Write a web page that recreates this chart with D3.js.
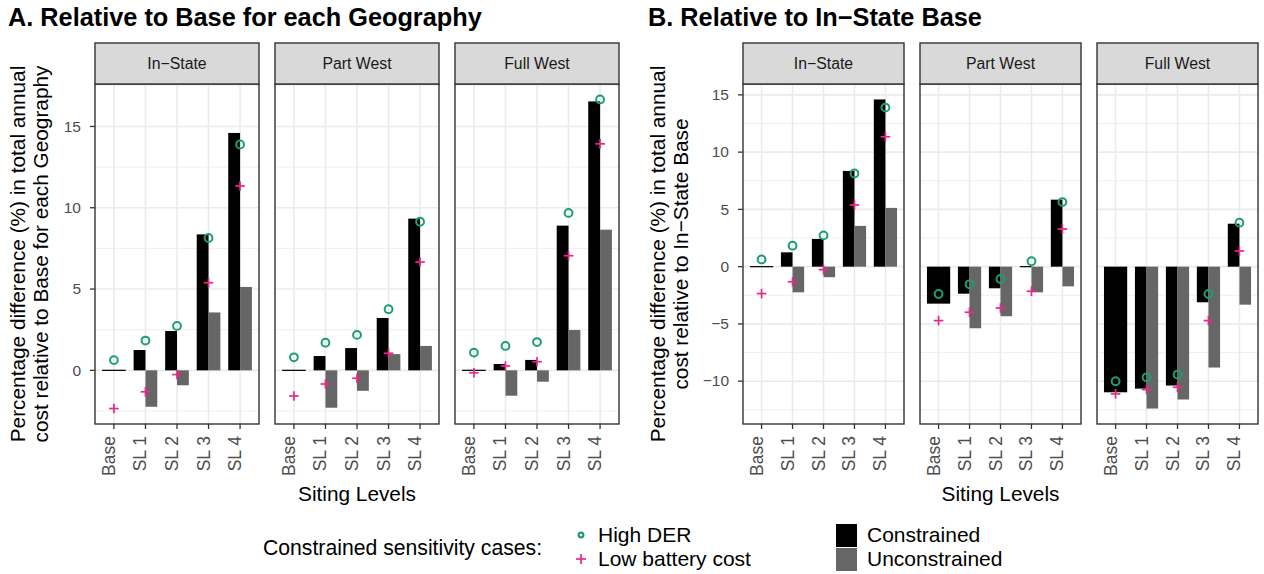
<!DOCTYPE html>
<html><head><meta charset="utf-8">
<script src="https://cdn.jsdelivr.net/npm/d3@7"></script>
<style>body{margin:0;background:#fff} text{font-family:"Liberation Sans",Arial,Helvetica,sans-serif}</style>
</head><body><svg id="c" width="1264" height="574"></svg>
<script>
// ---------------- DATA ----------------
const categories = ["Base", "SL 1", "SL 2", "SL 3", "SL 4"];
const geographies = ["In\u2212State", "Part West", "Full West"];

// Panel A: relative to Base for each geography
const constrainedA = [
  [0, 1.25, 2.42, 8.36, 14.60],
  [0, 0.88, 1.37, 3.22, 9.33],
  [0, 0.39, 0.64, 8.90, 16.54]
];
const unconstrainedA = [
  [null, -2.24, -0.92, 3.56, 5.13],
  [null, -2.30, -1.26, 1.00, 1.50],
  [null, -1.56, -0.70, 2.48, 8.65]
];
const highDerA = [
  [0.63, 1.83, 2.73, 8.14, 13.89],
  [0.80, 1.70, 2.18, 3.76, 9.14],
  [1.09, 1.50, 1.74, 9.68, 16.66]
];
const lowBatteryA = [
  [-2.35, -1.32, -0.26, 5.39, 11.34],
  [-1.58, -0.84, -0.49, 1.05, 6.66],
  [-0.15, 0.27, 0.53, 7.05, 13.93]
];

// Panel B: relative to In-State Base
const constrainedB = [
  [0, 1.25, 2.42, 8.36, 14.60],
  [-3.23, -2.36, -1.89, -0.05, 5.85],
  [-10.97, -10.65, -10.38, -3.11, 3.75]
];
const unconstrainedB = [
  [null, -2.24, -0.92, 3.56, 5.13],
  [null, -5.38, -4.33, -2.24, -1.72],
  [null, -12.39, -11.60, -8.81, -3.32]
];
const highDerB = [
  [0.63, 1.83, 2.73, 8.14, 13.89],
  [-2.39, -1.54, -1.08, 0.47, 5.64],
  [-10.00, -9.66, -9.42, -2.39, 3.84]
];
const lowBatteryB = [
  [-2.35, -1.32, -0.26, 5.39, 11.34],
  [-4.71, -3.98, -3.61, -2.15, 3.29],
  [-11.11, -10.73, -10.53, -4.71, 1.37]
];

const yTicksA = [0, 5, 10, 15];
const yTicksB = [-10, -5, 0, 5, 10, 15];

const titleA = "A. Relative to Base for each Geography";
const titleB = "B. Relative to In\u2212State Base";
const yTitleA = ["Percentage difference (%) in total annual", "cost relative to Base for each Geography"];
const yTitleB = ["Percentage difference (%) in total annual", "cost relative to In\u2212State Base"];
const xTitle = "Siting Levels";
const legendTitle = "Constrained sensitivity cases:";
const pointLabels = ["High DER", "Low battery cost"];
const barLabels = ["Constrained", "Unconstrained"];

// ---------------- STYLE ----------------
const COL_CON = "#000000", COL_UNC = "#666666";
const COL_DER = "#1b9e77", COL_BAT = "#e7298a";
const GRID = "#ebebeb", BORDER = "#333333", TXT = "#4d4d4d";
const panelTop = 84, panelBottom = 424, stripTop = 43;

const svg = d3.select("#c");
const fmt = v => (v < 0 ? "\u2212" + Math.abs(v) : String(v));

function allVals(arrs) {
  return arrs.flat(2).filter(v => v !== null);
}

function drawGroup(cfg) {
  const vals = allVals([cfg.con, cfg.unc, cfg.der, cfg.bat]).concat([0]);
  const lo = d3.min(vals), hi = d3.max(vals), L = hi - lo;
  const y = d3.scaleLinear().domain([lo - 0.05 * L, hi + 0.05 * L]).range([panelBottom, panelTop]);
  const step = cfg.ticks[1] - cfg.ticks[0];
  const minor = [];
  for (let t = cfg.ticks[0] - step / 2; t <= cfg.ticks[cfg.ticks.length - 1] + step; t += step) {
    if (t > y.domain()[0] && t < y.domain()[1]) minor.push(t);
  }

  cfg.lefts.forEach((left, gi) => {
    const W = cfg.width;
    const x = d3.scalePoint().domain(categories).range([left, left + W]).padding(0.6);
    const u = x.step();
    const g = svg.append("g");
    g.append("rect").attr("x", left).attr("y", panelTop).attr("width", W).attr("height", panelBottom - panelTop).attr("fill", "#fff");
    // grid
    g.selectAll(".mn").data(minor).join("line")
      .attr("x1", left).attr("x2", left + W).attr("y1", d => y(d)).attr("y2", d => y(d))
      .attr("stroke", GRID).attr("stroke-width", 0.8);
    g.selectAll(".mj").data(cfg.ticks).join("line")
      .attr("x1", left).attr("x2", left + W).attr("y1", d => y(d)).attr("y2", d => y(d))
      .attr("stroke", GRID).attr("stroke-width", 1.6);
    g.selectAll(".vj").data(categories).join("line")
      .attr("x1", d => x(d)).attr("x2", d => x(d)).attr("y1", panelTop).attr("y2", panelBottom)
      .attr("stroke", GRID).attr("stroke-width", 1.6);

    // bars
    const bars = [];
    categories.forEach((c, i) => {
      const cv = cfg.con[gi][i], uv = cfg.unc[gi][i];
      const cx = x(c), hw = 0.375 * u;
      if (uv === null) {
        bars.push({x0: cx - hw, x1: cx + hw, v: cv, fill: COL_CON});
      } else {
        bars.push({x0: cx - hw, x1: cx, v: cv, fill: COL_CON});
        bars.push({x0: cx, x1: cx + hw, v: uv, fill: COL_UNC});
      }
    });
    g.selectAll(".bar").data(bars).join("rect")
      .attr("x", d => d.x0).attr("width", d => d.x1 - d.x0)
      .attr("y", d => {
        const h = Math.abs(y(d.v) - y(0));
        return h < 1.2 ? y(0) - 0.6 : Math.min(y(d.v), y(0));
      })
      .attr("height", d => Math.max(1.2, Math.abs(y(d.v) - y(0))))
      .attr("fill", d => d.fill);

    // points
    g.selectAll(".der").data(categories).join("circle")
      .attr("cx", d => x(d)).attr("cy", (d, i) => y(cfg.der[gi][i])).attr("r", 3.9)
      .attr("fill", "none").attr("stroke", COL_DER).attr("stroke-width", 2);
    const pl = g.selectAll(".bat").data(categories).join("g")
      .attr("transform", (d, i) => `translate(${x(d)},${y(cfg.bat[gi][i])})`);
    pl.append("line").attr("x1", -4.8).attr("x2", 4.8).attr("stroke", COL_BAT).attr("stroke-width", 1.7);
    pl.append("line").attr("y1", -4.8).attr("y2", 4.8).attr("stroke", COL_BAT).attr("stroke-width", 1.7);

    // border
    g.append("rect").attr("x", left).attr("y", panelTop).attr("width", W).attr("height", panelBottom - panelTop)
      .attr("fill", "none").attr("stroke", BORDER).attr("stroke-width", 1.4);
    // strip
    g.append("rect").attr("x", left).attr("y", stripTop).attr("width", W).attr("height", panelTop - stripTop)
      .attr("fill", "#d9d9d9").attr("stroke", BORDER).attr("stroke-width", 1.4);
    g.append("text").attr("x", left + W / 2).attr("y", (stripTop + panelTop) / 2 + 5.5)
      .attr("text-anchor", "middle").attr("font-size", 15.8).attr("fill", "#1a1a1a").text(geographies[gi]);

    // x axis ticks + labels
    g.selectAll(".xt").data(categories).join("line")
      .attr("x1", d => x(d)).attr("x2", d => x(d)).attr("y1", panelBottom).attr("y2", panelBottom + 5)
      .attr("stroke", BORDER).attr("stroke-width", 1.3);
    g.selectAll(".xl").data(categories).join("text")
      .attr("transform", d => `translate(${x(d) + 1},${panelBottom + 12}) rotate(-90)`)
      .attr("text-anchor", "end").attr("font-size", 17.5).attr("fill", TXT).text(d => d);

    // y axis on first panel
    if (gi === 0) {
      g.selectAll(".yt").data(cfg.ticks).join("line")
        .attr("x1", left - 5).attr("x2", left).attr("y1", d => y(d)).attr("y2", d => y(d))
        .attr("stroke", BORDER).attr("stroke-width", 1.3);
      g.selectAll(".yl").data(cfg.ticks).join("text")
        .attr("x", left - 14).attr("y", d => y(d) + 5.3)
        .attr("text-anchor", "end").attr("font-size", 15.5).attr("fill", TXT).text(d => fmt(d));
    }
  });

  // titles
  svg.append("text").attr("x", cfg.titleX).attr("y", 26).attr("font-size", 25.3).attr("font-weight", "bold")
    .attr("fill", "#000").text(cfg.title);
  const cy = (panelTop + panelBottom) / 2;
  cfg.yTitle.forEach((t, i) => {
    svg.append("text").attr("transform", `translate(${cfg.yTitleX[i]},${cy}) rotate(-90)`)
      .attr("text-anchor", "middle").attr("font-size", 20.8).attr("fill", "#000").text(t);
  });
  const xc = (cfg.lefts[0] + cfg.lefts[2] + cfg.width) / 2;
  svg.append("text").attr("x", xc).attr("y", 501).attr("text-anchor", "middle")
    .attr("font-size", 20.8).attr("fill", "#000").text(xTitle);
}

drawGroup({lefts: [95, 275, 455], width: 164, con: constrainedA, unc: unconstrainedA,
  der: highDerA, bat: lowBatteryA, ticks: yTicksA, title: titleA, titleX: 8,
  yTitle: yTitleA, yTitleX: [25, 48]});
drawGroup({lefts: [743, 920, 1097], width: 161, con: constrainedB, unc: unconstrainedB,
  der: highDerB, bat: lowBatteryB, ticks: yTicksB, title: titleB, titleX: 648,
  yTitle: yTitleB, yTitleX: [665, 688]});

// ---------------- LEGEND ----------------
const lg = svg.append("g");
lg.append("text").attr("x", 263).attr("y", 555).attr("font-size", 21.2).attr("fill", "#000").text(legendTitle);
lg.append("circle").attr("cx", 581).attr("cy", 535).attr("r", 2.4).attr("fill", "none")
  .attr("stroke", COL_DER).attr("stroke-width", 2.2);
lg.append("line").attr("x1", 576).attr("x2", 586).attr("y1", 559).attr("y2", 559).attr("stroke", COL_BAT).attr("stroke-width", 1.7);
lg.append("line").attr("x1", 581).attr("x2", 581).attr("y1", 554).attr("y2", 564).attr("stroke", COL_BAT).attr("stroke-width", 1.7);
pointLabels.forEach((t, i) => {
  lg.append("text").attr("x", 598).attr("y", 542 + i * 24).attr("font-size", 21).attr("fill", "#000").text(t);
});
[COL_CON, COL_UNC].forEach((c, i) => {
  lg.append("rect").attr("x", 836).attr("y", 524 + i * 24).attr("width", 21).attr("height", 23).attr("fill", c);
  lg.append("text").attr("x", 867).attr("y", 542 + i * 24).attr("font-size", 21).attr("fill", "#000").text(barLabels[i]);
});
</script></body></html>
